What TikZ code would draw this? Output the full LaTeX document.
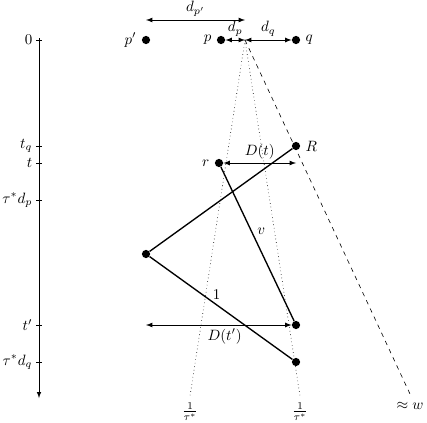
\documentclass[tikz,border=0pt]{standalone}
\usepackage{tikz}
\usetikzlibrary{calc,arrows,positioning}
\tikzset{
  pt/.style={circle,fill=black,inner sep=0pt,minimum size=5.5pt},
  path/.style={line width=0.9pt},
  dist/.style={latex-latex,line width=0.5pt},
}
\begin{document}
\begin{tikzpicture}[x=0.0235cm,y=-0.0235cm]
			%%%%% START %%%%%
			\useasboundingbox (0,0) rectangle (427,422);
			
			% time axis
			\draw[-latex] (39,38) -- (39,398);
			\foreach \yy/\lab in {40/0, 146/t_q, 163/t, 200/\tau^*d_p, 325/t', 362/\tau^*d_q}
				\draw (36,\yy) -- (42,\yy) node[left=3pt] {$\lab$};
			
			% start points
			\coordinate (o) at (245,40);
			\node[pt,label=left:$p'$] (pp) at (146,40) {};
			\node[pt,label=left:$p$] (p) at (221,40) {};
			\node[pt,label=right:$q$] (q) at (296,40) {};
			\draw[dist] (p) -- node[above=-1pt] {$d_p$} (o);
			\draw[dist] (o) -- node[above=-1pt] {$d_q$} (q);
			\coordinate (a) at (146,20);
			\coordinate (b) at (245,20);
			\draw[dist] (a) -- node[above=-1pt] {$d_{p'}$} (b);
			
			% cones
			\coordinate (c1) at (190,396);
			\coordinate (c2) at (300,396);
			\coordinate (w) at (410,394);
			\draw[dotted] (o) -- (c1) node[below=1pt] {$\frac{1}{\tau^*}$};
			\draw[dotted] (o) -- (c2) node[below=1pt] {$\frac{1}{\tau^*}$};
			\draw[dashed] (o) -- (w) node[below=2pt] {$\approx w$};
			
			% robots
			\node[pt,label=right:$R$] (R) at (296,146) {};
			\node[pt,label=left:$r$] (r) at (219,163) {};
			\node[pt] (m) at (146,254) {};
			\node[pt] (s) at (296,325) {};
			\node[pt] (u) at (296,362) {};
			\draw[path] (R) -- (m) -- node[above=0pt,pos=0.47] {$1$} (u);
			\draw[path] (r) -- node[right=0pt,pos=0.42] {$v$} (s);
			
			% distances
			\coordinate (d1) at (296,163);
			\draw[dist] (r) -- node[above=-1pt] {$D(t)$} (d1);
			\coordinate (d2) at (146,325);
			\draw[dist] (d2) -- node[below=-1pt,pos=0.54] {$D(t')$} (s);
			%%%%% END %%%%%
\end{tikzpicture}
\end{document}
